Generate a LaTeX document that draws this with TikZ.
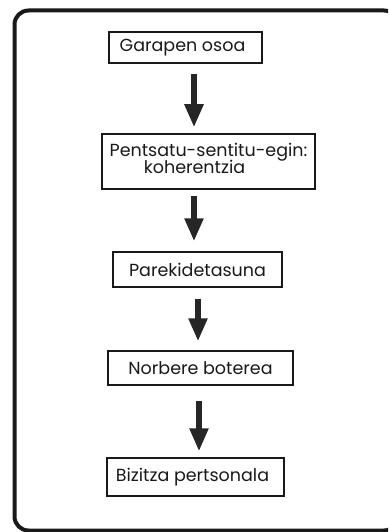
\documentclass[tikz,border=0pt]{standalone}
\usepackage{fontspec}
\setmainfont{Poppins}
\usetikzlibrary{arrows.meta}
\begin{document}
\begin{tikzpicture}[x=1pt,y=-1pt,
  box/.style={draw=black!90, line width=1.5pt, inner sep=0pt, font=\fontsize{17.5}{19}\selectfont, text=black!90},
  arr/.style={draw=black!85, line width=5.5pt, -{Triangle[length=23pt,width=18pt]}}]
\useasboundingbox (0,0) rectangle (388,532);
\clip (0,0) rectangle (388,532);
\draw[line width=4pt, rounded corners=14pt, black!90] (14.5,10.5) rectangle (398,530.5);
\node[box, minimum width=153pt, minimum height=31pt] (b1) at (185.5,47.5) {Garapen osoa\hspace*{6pt}};
\node[box, minimum width=213pt, minimum height=55pt] (b2) at (208.5,161.5) {\raisebox{-4pt}{\begin{tabular}{@{}c@{}}Pentsatu-sentitu-egin:\\[-2pt]koherentzia\hspace*{28pt}\end{tabular}}};
\node[box, minimum width=169pt, minimum height=35pt] (b3) at (197.5,269.5) {Parekidetasuna};
\node[box, minimum width=185pt, minimum height=34pt] (b4) at (200.5,368) {Norbere boterea};
\node[box, minimum width=177pt, minimum height=38pt] (b5) at (195.5,477) {Bizitza pertsonala\hspace*{6pt}};
\coordinate (x1) at (194,0);
\coordinate (x2) at (194,0);
\coordinate (x3) at (198,0);
\coordinate (x4) at (199,0);
\draw[arr, shorten <=10pt, shorten >=6pt] (b1.south -| x1) -- (b2.north -| x1);
\draw[arr, shorten <=6pt, shorten >=10pt] (b2.south -| x2) -- (b3.north -| x2);
\draw[arr, shorten <=11pt, shorten >=9pt] (b3.south -| x3) -- (b4.north -| x3);
\draw[arr, shorten <=15pt, shorten >=6pt] (b4.south -| x4) -- (b5.north -| x4);
\end{tikzpicture}
\end{document}
